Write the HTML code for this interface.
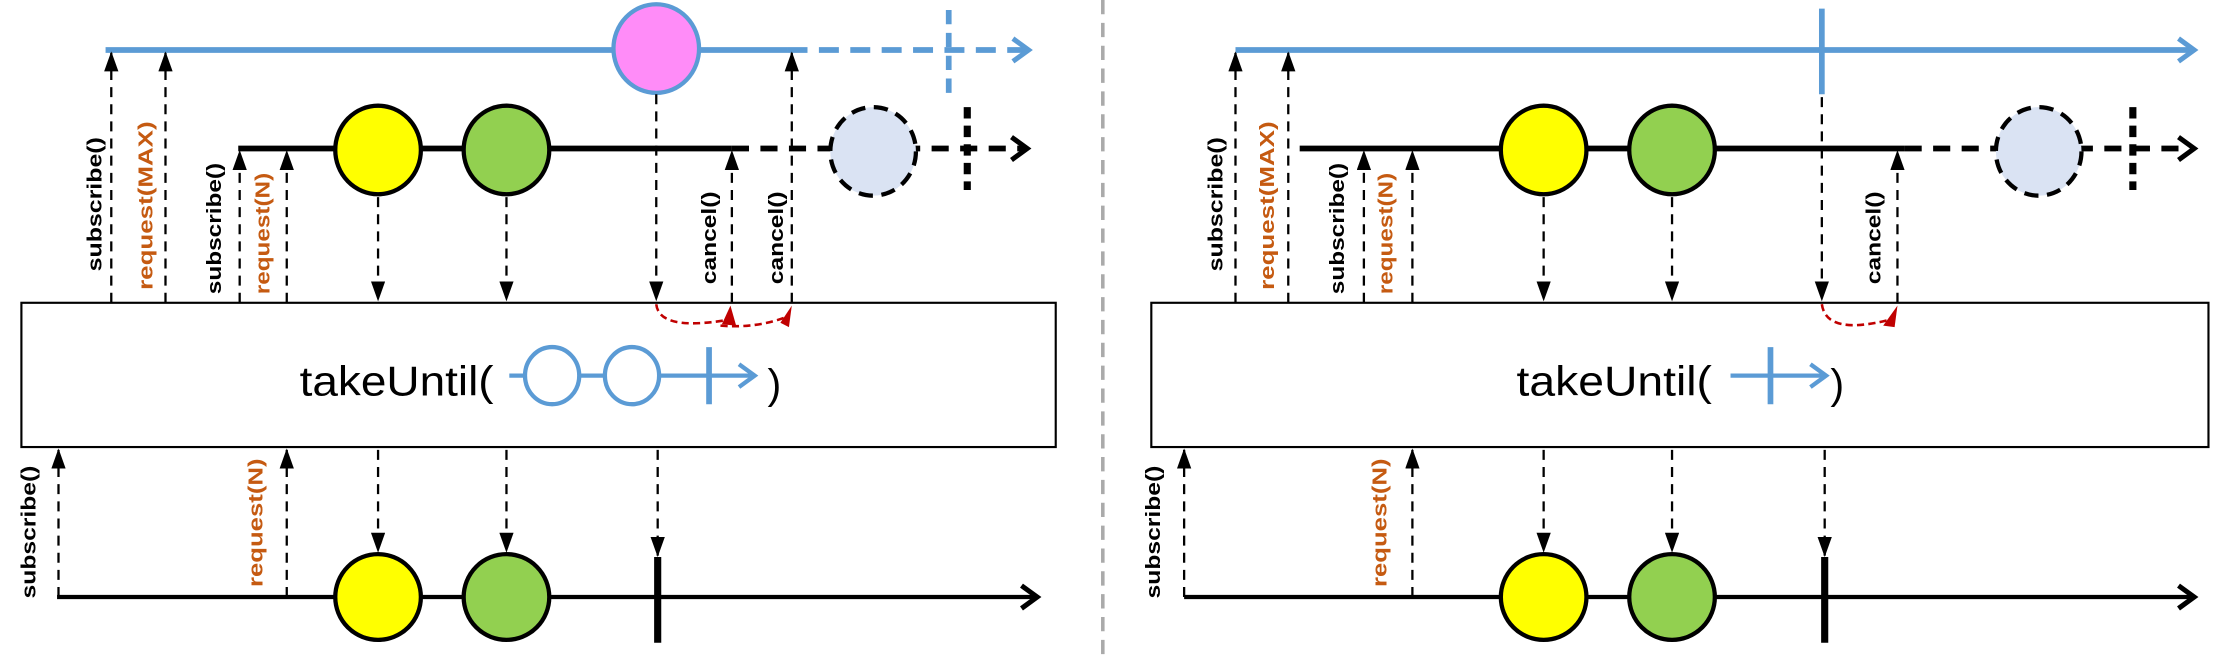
<!DOCTYPE html>
<html><head><meta charset="utf-8"><style>html,body{margin:0;padding:0;background:#fff}svg{display:block}</style></head>
<body>
<svg width="2237" height="657" viewBox="0 0 1568 460" preserveAspectRatio="none" xmlns="http://www.w3.org/2000/svg" font-family="Liberation Sans, sans-serif">
<defs>
<marker id="ah" markerWidth="14" markerHeight="10" refX="13" refY="5" orient="auto" markerUnits="userSpaceOnUse" viewBox="0 0 14 10"><path d="M0,0 L14,5 L0,10 Z" fill="#000"/></marker>
</defs>
<g id="L">
<line x1="74" y1="35" x2="552" y2="35" stroke="#5b9bd5" stroke-width="4"/>
<line x1="552" y1="35" x2="720" y2="35" stroke="#5b9bd5" stroke-width="4" stroke-dasharray="14,8"/>
<polyline points="710,27 721,35 710,43" fill="none" stroke="#5b9bd5" stroke-width="3.5"/>
<line x1="665" y1="7" x2="665" y2="66" stroke="#5b9bd5" stroke-width="4" stroke-dasharray="10,6"/>
<ellipse cx="460" cy="34" rx="30" ry="31" fill="#ff8cf8" stroke="#5b9bd5" stroke-width="3"/>
<line x1="167" y1="104" x2="513" y2="104" stroke="#000" stroke-width="4"/>
<line x1="513" y1="104" x2="718" y2="104" stroke="#000" stroke-width="4" stroke-dasharray="12,8"/>
<polyline points="709,96 720,104 709,112" fill="none" stroke="#000" stroke-width="3.5"/>
<line x1="678" y1="75" x2="678" y2="133" stroke="#000" stroke-width="5" stroke-dasharray="8,5"/>
<ellipse cx="265" cy="105" rx="30" ry="31" fill="#ffff00" stroke="#000" stroke-width="3"/>
<ellipse cx="355" cy="105" rx="30" ry="31" fill="#92d050" stroke="#000" stroke-width="3"/>
<ellipse cx="612" cy="106" rx="30" ry="31" fill="#dae3f3" stroke="#000" stroke-width="3" stroke-dasharray="10,6"/>
<rect x="15" y="212" width="725" height="101" fill="#fff" stroke="#000" stroke-width="1.5"/>
<text x="210" y="277" font-size="29" textLength="136" lengthAdjust="spacingAndGlyphs">takeUntil(</text>
<line x1="357" y1="263" x2="528" y2="263" stroke="#5b9bd5" stroke-width="3"/>
<polyline points="518,255 529,263 518,271" fill="none" stroke="#5b9bd5" stroke-width="3"/>
<ellipse cx="387" cy="263" rx="19" ry="20" fill="#fff" stroke="#5b9bd5" stroke-width="3"/>
<ellipse cx="443" cy="263" rx="19" ry="20" fill="#fff" stroke="#5b9bd5" stroke-width="3"/>
<line x1="497" y1="243" x2="497" y2="283" stroke="#5b9bd5" stroke-width="4"/>
<text x="538" y="279" font-size="29">)</text>
<line x1="40" y1="418" x2="726" y2="418" stroke="#000" stroke-width="3"/>
<polyline points="716,410 727,418 716,426" fill="none" stroke="#000" stroke-width="3.5"/>
<ellipse cx="265" cy="418" rx="30" ry="30" fill="#ffff00" stroke="#000" stroke-width="3"/>
<ellipse cx="355" cy="418" rx="30" ry="30" fill="#92d050" stroke="#000" stroke-width="3"/>
<line x1="461" y1="390" x2="461" y2="450" stroke="#000" stroke-width="5"/>
<g stroke="#000" stroke-width="1.6" stroke-dasharray="7,5" fill="none">
<line x1="78" y1="212" x2="78" y2="37" marker-end="url(#ah)"/>
<line x1="116" y1="212" x2="116" y2="37" marker-end="url(#ah)"/>
<line x1="168" y1="212" x2="168" y2="106" marker-end="url(#ah)"/>
<line x1="201" y1="212" x2="201" y2="106" marker-end="url(#ah)"/>
<line x1="513" y1="212" x2="513" y2="106" marker-end="url(#ah)"/>
<line x1="555" y1="212" x2="555" y2="37" marker-end="url(#ah)"/>
<line x1="265" y1="138" x2="265" y2="210" marker-end="url(#ah)"/>
<line x1="355" y1="138" x2="355" y2="210" marker-end="url(#ah)"/>
<line x1="460" y1="66" x2="460" y2="210" marker-end="url(#ah)"/>
<line x1="41" y1="418" x2="41" y2="315" marker-end="url(#ah)"/>
<line x1="201" y1="418" x2="201" y2="315" marker-end="url(#ah)"/>
<line x1="265" y1="315" x2="265" y2="386" marker-end="url(#ah)"/>
<line x1="355" y1="315" x2="355" y2="386" marker-end="url(#ah)"/>
<line x1="461" y1="315" x2="461" y2="389" marker-end="url(#ah)"/>
</g>
<path d="M460,213 Q462,232 510,224" fill="none" stroke="#c00000" stroke-width="1.8" stroke-dasharray="5,3"/>
<path d="M505,228 Q530,230 551,222" fill="none" stroke="#c00000" stroke-width="1.8" stroke-dasharray="5,3"/>
<path d="M506,227 L512,214 L516,228 Z" fill="#c00000"/>
<path d="M547,226 L555,214 L553,229 Z" fill="#c00000"/>
<g font-weight="bold" font-size="14">
<text transform="translate(71,190) rotate(-90)" textLength="94" lengthAdjust="spacingAndGlyphs">subscribe()</text>
<text transform="translate(107,203) rotate(-90)" fill="#c55a11" textLength="118" lengthAdjust="spacingAndGlyphs">request(MAX)</text>
<text transform="translate(155,206) rotate(-90)" textLength="92" lengthAdjust="spacingAndGlyphs">subscribe()</text>
<text transform="translate(189,206) rotate(-90)" fill="#c55a11" textLength="85" lengthAdjust="spacingAndGlyphs">request(N)</text>
<text transform="translate(502,199) rotate(-90)" textLength="65" lengthAdjust="spacingAndGlyphs">cancel()</text>
<text transform="translate(549,199) rotate(-90)" textLength="65" lengthAdjust="spacingAndGlyphs">cancel()</text>
<text transform="translate(25,419) rotate(-90)" textLength="93" lengthAdjust="spacingAndGlyphs">subscribe()</text>
<text transform="translate(184,411) rotate(-90)" fill="#c55a11" textLength="90" lengthAdjust="spacingAndGlyphs">request(N)</text>
</g>
</g>
<line x1="773" y1="0" x2="773" y2="460" stroke="#aaa" stroke-width="2.5" stroke-dasharray="10,6"/>
<g id="R">
<line x1="866" y1="35" x2="1536" y2="35" stroke="#5b9bd5" stroke-width="4"/>
<polyline points="1527,27 1538,35 1527,43" fill="none" stroke="#5b9bd5" stroke-width="3.5"/>
<line x1="1277" y1="6" x2="1277" y2="66" stroke="#5b9bd5" stroke-width="4"/>
<line x1="911" y1="104" x2="1335" y2="104" stroke="#000" stroke-width="4"/>
<line x1="1335" y1="104" x2="1536" y2="104" stroke="#000" stroke-width="4" stroke-dasharray="12,8"/>
<polyline points="1527,96 1538,104 1527,112" fill="none" stroke="#000" stroke-width="3.5"/>
<line x1="1495" y1="75" x2="1495" y2="133" stroke="#000" stroke-width="5" stroke-dasharray="8,5"/>
<ellipse cx="1082" cy="105" rx="30" ry="31" fill="#ffff00" stroke="#000" stroke-width="3"/>
<ellipse cx="1172" cy="105" rx="30" ry="31" fill="#92d050" stroke="#000" stroke-width="3"/>
<ellipse cx="1429" cy="106" rx="30" ry="31" fill="#dae3f3" stroke="#000" stroke-width="3" stroke-dasharray="10,6"/>
<rect x="807" y="212" width="741" height="101" fill="#fff" stroke="#000" stroke-width="1.5"/>
<text x="1063" y="277" font-size="29" textLength="137" lengthAdjust="spacingAndGlyphs">takeUntil(</text>
<line x1="1213" y1="263" x2="1279" y2="263" stroke="#5b9bd5" stroke-width="3"/>
<polyline points="1269,255 1280,263 1269,271" fill="none" stroke="#5b9bd5" stroke-width="3"/>
<line x1="1241" y1="243" x2="1241" y2="283" stroke="#5b9bd5" stroke-width="4"/>
<text x="1283" y="279" font-size="29">)</text>
<line x1="830" y1="418" x2="1536" y2="418" stroke="#000" stroke-width="3"/>
<polyline points="1527,410 1538,418 1527,426" fill="none" stroke="#000" stroke-width="3.5"/>
<ellipse cx="1082" cy="418" rx="30" ry="30" fill="#ffff00" stroke="#000" stroke-width="3"/>
<ellipse cx="1172" cy="418" rx="30" ry="30" fill="#92d050" stroke="#000" stroke-width="3"/>
<line x1="1279" y1="390" x2="1279" y2="450" stroke="#000" stroke-width="5"/>
<g stroke="#000" stroke-width="1.6" stroke-dasharray="7,5" fill="none">
<line x1="866" y1="212" x2="866" y2="37" marker-end="url(#ah)"/>
<line x1="903" y1="212" x2="903" y2="37" marker-end="url(#ah)"/>
<line x1="956" y1="212" x2="956" y2="106" marker-end="url(#ah)"/>
<line x1="990" y1="212" x2="990" y2="106" marker-end="url(#ah)"/>
<line x1="1330" y1="212" x2="1330" y2="106" marker-end="url(#ah)"/>
<line x1="1082" y1="138" x2="1082" y2="210" marker-end="url(#ah)"/>
<line x1="1172" y1="138" x2="1172" y2="210" marker-end="url(#ah)"/>
<line x1="1277" y1="68" x2="1277" y2="210" marker-end="url(#ah)"/>
<line x1="830" y1="418" x2="830" y2="315" marker-end="url(#ah)"/>
<line x1="990" y1="418" x2="990" y2="315" marker-end="url(#ah)"/>
<line x1="1082" y1="315" x2="1082" y2="386" marker-end="url(#ah)"/>
<line x1="1172" y1="315" x2="1172" y2="386" marker-end="url(#ah)"/>
<line x1="1279" y1="315" x2="1279" y2="389" marker-end="url(#ah)"/>
</g>
<path d="M1277,213 Q1280,235 1324,224" fill="none" stroke="#c00000" stroke-width="1.8" stroke-dasharray="5,3"/>
<path d="M1320,228 L1330,214 L1328,229 Z" fill="#c00000"/>
<g font-weight="bold" font-size="14">
<text transform="translate(857,190) rotate(-90)" textLength="94" lengthAdjust="spacingAndGlyphs">subscribe()</text>
<text transform="translate(893,203) rotate(-90)" fill="#c55a11" textLength="118" lengthAdjust="spacingAndGlyphs">request(MAX)</text>
<text transform="translate(942,206) rotate(-90)" textLength="92" lengthAdjust="spacingAndGlyphs">subscribe()</text>
<text transform="translate(976,206) rotate(-90)" fill="#c55a11" textLength="85" lengthAdjust="spacingAndGlyphs">request(N)</text>
<text transform="translate(1318,199) rotate(-90)" textLength="65" lengthAdjust="spacingAndGlyphs">cancel()</text>
<text transform="translate(813,419) rotate(-90)" textLength="93" lengthAdjust="spacingAndGlyphs">subscribe()</text>
<text transform="translate(972,411) rotate(-90)" fill="#c55a11" textLength="90" lengthAdjust="spacingAndGlyphs">request(N)</text>
</g>
</g>
</svg>
</body></html>
